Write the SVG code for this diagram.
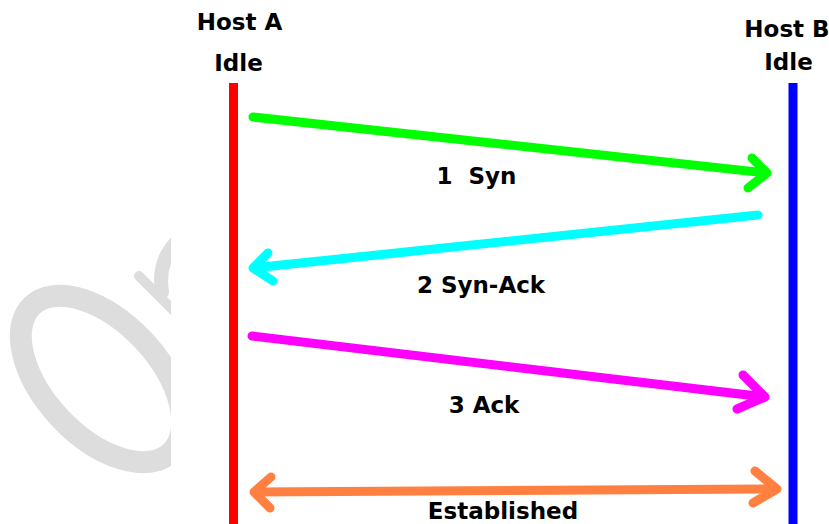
<svg xmlns="http://www.w3.org/2000/svg" width="829" height="524" viewBox="0 0 829 524">
<style>
.t{font-family:"DejaVu Sans","Liberation Sans",sans-serif;font-weight:bold;font-size:23px;fill:#000;text-anchor:middle;white-space:pre}
.life{stroke-width:9;fill:none}
.arr{fill:none;stroke-width:9;stroke-linecap:round;stroke-linejoin:round}
.wm{fill:none;stroke:#dddddd;stroke-linecap:round}
</style>
<defs>
<clipPath id="wmclip"><rect x="0" y="0" width="171" height="524"/></clipPath>
</defs>
<rect width="829" height="524" fill="#ffffff"/>
<g id="watermark" clip-path="url(#wmclip)">
<ellipse class="wm" cx="0" cy="0" rx="101" ry="57" stroke-width="22" transform="translate(101.5 379) rotate(46.7)"/>
<line class="wm" x1="139" y1="276" x2="190" y2="327" stroke-width="10"/>
<path class="wm" d="M162 292 Q156 252 190 232" stroke-width="14"/>
</g>
<g id="hostA">
<line class="life" x1="233.5" y1="83" x2="233.5" y2="524" stroke="#ff0000"/>
<text class="t" x="239.5" y="30">Host A</text>
<text class="t" x="238.5" y="71">Idle</text>
</g>
<g id="hostB">
<line class="life" x1="793" y1="83" x2="793" y2="524" stroke="#0000ff"/>
<text class="t" x="787" y="37">Host B</text>
<text class="t" x="788.5" y="70">Idle</text>
</g>
<g id="connectors">
<g id="syn" stroke="#00ff00">
<path class="arr" d="M253 117 L767 173 M752 158 L767 173 L748 188"/>
<text class="t" x="476.5" y="184" stroke="none" xml:space="preserve">1  Syn</text>
</g>
<g id="synack" stroke="#00ffff">
<path class="arr" d="M758 215 L253 268 M268 253 L253 268 L273 281"/>
<text class="t" x="481" y="293" stroke="none">2 Syn-Ack</text>
</g>
<g id="ack" stroke="#ff00ff">
<path class="arr" d="M252 336 L765 397 M743 375 L765 397 L737 409"/>
<text class="t" x="484" y="413" stroke="none">3 Ack</text>
</g>
<g id="established" stroke="#ff8040">
<path class="arr" d="M254 492 L777 489 M271 477 L254 492 L270 508 M755 471 L777 489 L753 503"/>
<text class="t" x="503" y="519" stroke="none">Established</text>
</g>
</g>
</svg>
